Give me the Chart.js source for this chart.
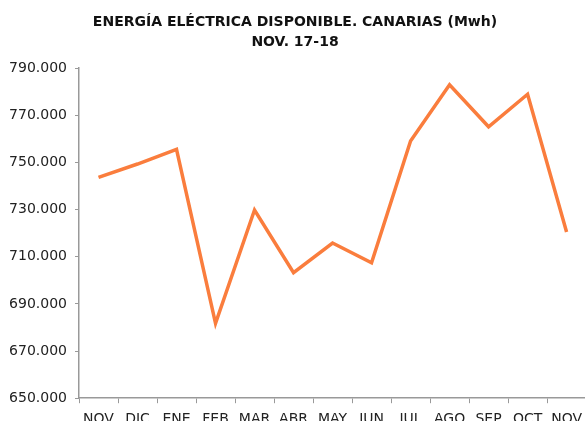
<!DOCTYPE html>
<html>
<head>
<meta charset="utf-8">
<script src="https://cdn.jsdelivr.net/npm/chart.js@4"></script>
<style>
  html, body { margin: 0; padding: 0; background: #fff; overflow: hidden; }
  #caja { width: 585px; height: 421px; overflow: hidden; }
</style>
</head>
<body>
<div id="caja"><canvas id="grafico-energia" width="590" height="436"></canvas></div>
<script>
// Datos (MWh)
const meses = ['NOV', 'DIC', 'ENE', 'FEB', 'MAR', 'ABR', 'MAY', 'JUN', 'JUL', 'AGO', 'SEP', 'OCT', 'NOV'];
const energia = [743600, 749300, 755500, 681700, 729800, 703200, 715800, 707400, 759100, 782900, 765100, 778900, 720500];
const titulo = ['ENERGÍA ELÉCTRICA DISPONIBLE. CANARIAS (Mwh)', 'NOV. 17-18'];

window.onload = GraficoEnergia;

let graficoEnergia;

function formatoMiles(valor) {
    return valor.toString().replace(/\B(?=(\d{3})+(?!\d))/g, '.');
}

function GraficoEnergia() {
    Chart.defaults.font.family = '"DejaVu Sans", Verdana, sans-serif';
    Chart.defaults.color = '#222';

    var ctx = document.getElementById('grafico-energia').getContext('2d');
    graficoEnergia = new Chart(ctx, {
        type: 'line',
        data: {
            labels: meses,
            datasets: [{
                data: energia,
                borderColor: '#FA7D3D',
                borderWidth: 3.5,
                pointRadius: 0,
                tension: 0,
                fill: false
            }]
        },
        options: {
            responsive: false,
            animation: false,
            layout: { padding: { left: 0, right: 0, top: 0, bottom: 0 } },
            plugins: {
                legend: { display: false },
                tooltip: { enabled: false },
                title: {
                    display: true,
                    text: titulo,
                    color: '#111',
                    font: { size: 14, weight: 'bold', lineHeight: 1.43 },
                    padding: { top: 12, bottom: 16 }
                }
            },
            scales: {
                x: {
                    offset: true,
                    grid: { offset: true, drawOnChartArea: false, drawTicks: true, tickLength: 5, color: '#999' },
                    border: { display: true, color: '#999', width: 1.5 },
                    ticks: { font: { size: 14 }, padding: 8, maxRotation: 0, autoSkip: false }
                },
                y: {
                    min: 650000,
                    max: 790000,
                    afterFit: function (escala) { escala.width = 79; },
                    grid: { drawOnChartArea: false, drawTicks: true, tickLength: 4, color: '#999' },
                    border: { display: true, color: '#999', width: 1.5 },
                    ticks: {
                        stepSize: 20000,
                        font: { size: 14 },
                        padding: 8,
                        callback: function (valor) { return formatoMiles(valor); }
                    }
                }
            }
        }
    });
}
</script>
</body>
</html>
